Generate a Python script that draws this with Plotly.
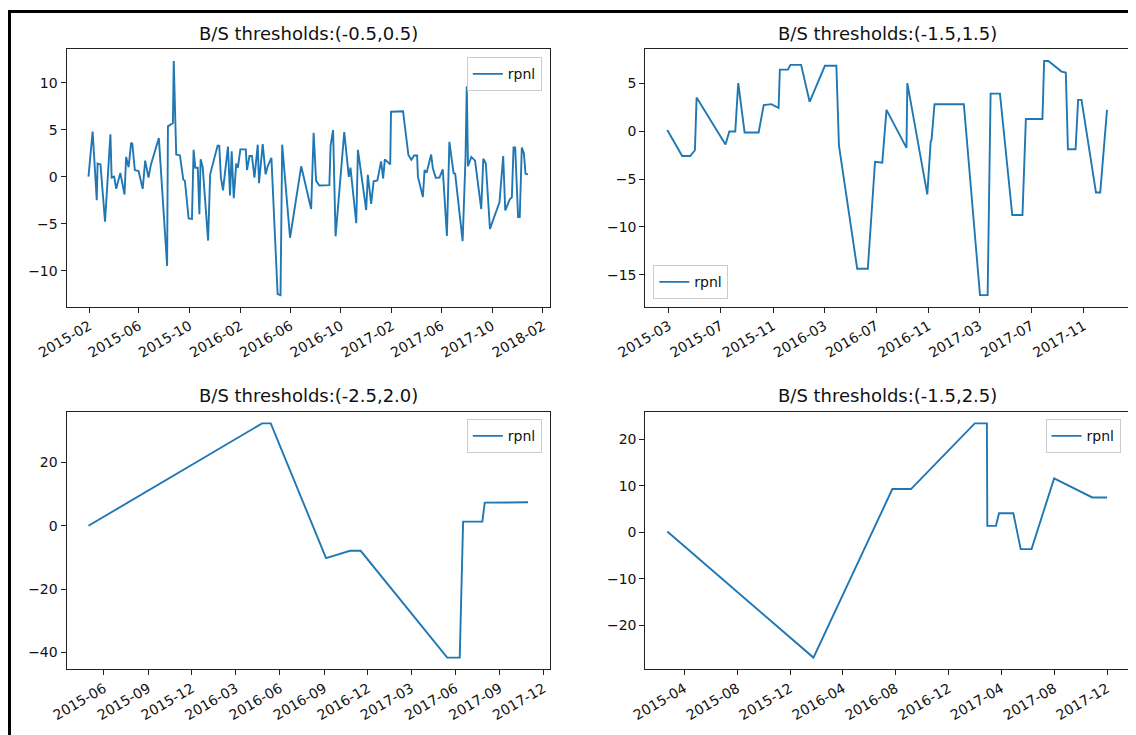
import plotly.graph_objects as go
import pandas as pd

# ---------------- data ----------------
dates1 = ["2015-01-30", "2015-02-09", "2015-02-19", "2015-02-21", "2015-02-28", "2015-03-11",
          "2015-03-24", "2015-03-27", "2015-04-02", "2015-04-07", "2015-04-17", "2015-04-27",
          "2015-05-01", "2015-05-07", "2015-05-13", "2015-05-16", "2015-05-22", "2015-05-31",
          "2015-06-10", "2015-06-16", "2015-06-24", "2015-06-30", "2015-07-19", "2015-08-08",
          "2015-08-10", "2015-08-22", "2015-08-24", "2015-08-30", "2015-09-08", "2015-09-16",
          "2015-09-20", "2015-09-29", "2015-10-07", "2015-10-11", "2015-10-15", "2015-10-21",
          "2015-10-25", "2015-10-28", "2015-11-02", "2015-11-15", "2015-11-20", "2015-12-08",
          "2015-12-12", "2015-12-16", "2015-12-21", "2015-12-30", "2016-01-02", "2016-01-07",
          "2016-01-11", "2016-01-16", "2016-01-22", "2016-01-26", "2016-02-01", "2016-02-14",
          "2016-02-17", "2016-02-23", "2016-02-29", "2016-03-06", "2016-03-14", "2016-03-17",
          "2016-03-26", "2016-04-02", "2016-04-07", "2016-04-16", "2016-05-01", "2016-05-08",
          "2016-05-12", "2016-05-31", "2016-06-19", "2016-06-27", "2016-07-21", "2016-07-27",
          "2016-08-02", "2016-08-10", "2016-09-03", "2016-09-06", "2016-09-12", "2016-09-18",
          "2016-10-09", "2016-10-20", "2016-10-24", "2016-11-07", "2016-11-11", "2016-12-01",
          "2016-12-05", "2016-12-13", "2016-12-19", "2016-12-28", "2017-01-06", "2017-01-11",
          "2017-01-15", "2017-01-23", "2017-01-28", "2017-01-30", "2017-02-28", "2017-03-13",
          "2017-03-20", "2017-03-27", "2017-04-03", "2017-04-05", "2017-04-17", "2017-04-21",
          "2017-04-26", "2017-05-07", "2017-05-11", "2017-05-18", "2017-05-27", "2017-06-04",
          "2017-06-14", "2017-06-20", "2017-06-30", "2017-07-04", "2017-07-22", "2017-07-29",
          "2017-08-01", "2017-08-04", "2017-08-12", "2017-08-21", "2017-09-05", "2017-09-10",
          "2017-09-16", "2017-09-26", "2017-10-19", "2017-10-28", "2017-11-02", "2017-11-13",
          "2017-11-18", "2017-11-22", "2017-11-26", "2017-12-03", "2017-12-07", "2017-12-12",
          "2017-12-17", "2017-12-21", "2017-12-27"]
rpnl1 = [0.0, 4.8, -2.5, 1.4, 1.3, -4.8,
         4.5, -0.1, 0.0, -1.3, 0.4, -1.9,
         2.1, 1.0, 3.6, 3.5, 0.7, 0.6,
         -1.3, 1.7, -0.1, 1.3, 4.1, -9.5,
         5.35, 5.7, 12.3, 2.36, 2.26, -0.3,
         -0.45, -4.45, -4.5, 2.85, 0.95, 0.95,
         -4.0, 1.85, 1.0, -6.8, 0.25, 3.3,
         3.3, -0.1, -1.45, 2.0, 3.2, -2.0,
         2.7, -2.3, 1.4, 0.95, 2.9, 2.9,
         0.7, 2.2, 2.2, -0.1, 3.4, -0.7,
         3.45, 0.25, 1.1, 2.0, -12.5, -12.6,
         3.4, -6.5, -1.15, 1.1, -3.45, 4.65,
         -0.45, -0.95, -0.9, 3.3, 4.95, -6.35,
         4.75, -0.03, 0.95, -4.96, 2.85, -3.55,
         0.2, -2.9, -0.5, -0.4, 1.62, -0.2,
         1.84, 1.5, 1.3, 6.9, 6.95, 2.3,
         1.8, 2.25, 2.26, 0.0, -2.17, 0.7,
         0.42, 2.35, 0.9, -0.12, -0.1, 0.78,
         -6.3, 3.7, 0.4, 0.3, -6.85, 2.0,
         9.6, 1.1, 2.1, 1.7, -3.45, 1.9,
         1.4, -5.56, -2.74, 2.19, -3.6, -2.4,
         -2.2, 3.1, 3.1, -4.3, -4.3, 3.1,
         2.5, 0.3, 0.25]

dates2 = ["2015-02-25", "2015-04-01", "2015-04-20", "2015-05-01", "2015-05-05", "2015-07-12",
          "2015-07-21", "2015-08-04", "2015-08-11", "2015-08-26", "2015-09-28", "2015-10-10",
          "2015-10-28", "2015-11-14", "2015-11-17", "2015-12-06", "2015-12-12", "2016-01-06",
          "2016-01-26", "2016-03-02", "2016-03-29", "2016-04-04", "2016-05-17", "2016-06-11",
          "2016-06-28", "2016-07-15", "2016-07-25", "2016-09-10", "2016-09-12", "2016-10-29",
          "2016-11-06", "2016-11-08", "2016-11-15", "2017-01-23", "2017-03-02", "2017-03-20",
          "2017-03-27", "2017-04-18", "2017-05-17", "2017-06-10", "2017-06-18", "2017-07-27",
          "2017-07-31", "2017-08-10", "2017-09-10", "2017-09-20", "2017-09-25", "2017-10-13",
          "2017-10-19", "2017-10-27", "2017-11-30", "2017-12-10", "2017-12-26"]
rpnl2 = [0.1, -2.6, -2.6, -2.0, 3.5, -1.4,
         -0.05, -0.05, 5.0, -0.15, -0.15, 2.7,
         2.8, 2.4, 6.4, 6.4, 6.9, 6.9,
         3.05, 6.8, 6.8, -1.5, -14.35, -14.35,
         -3.2, -3.3, 2.2, -1.75, 5.0, -6.6,
         -1.1, -0.9, 2.8, 2.8, -17.1, -17.1,
         3.9, 3.9, -8.75, -8.75, 1.25, 1.25,
         7.3, 7.3, 6.2, 6.1, -1.9, -1.9,
         3.25, 3.25, -6.4, -6.4, 2.2]

dates3 = ["2015-04-30", "2016-04-25", "2016-05-13", "2016-09-05", "2016-10-25", "2016-11-16",
          "2017-05-15", "2017-06-10", "2017-06-17", "2017-07-27", "2017-08-01", "2017-10-30"]
rpnl3 = [0.0, 32.3, 32.3, -10.2, -7.9, -7.9,
         -41.6, -41.6, 1.3, 1.3, 7.3, 7.4]

dates4 = ["2015-02-21", "2016-01-24", "2016-07-24", "2016-09-05", "2017-01-30", "2017-02-27",
          "2017-02-28", "2017-03-20", "2017-03-27", "2017-04-29", "2017-05-16", "2017-06-10",
          "2017-08-01", "2017-10-28", "2017-12-01"]
rpnl4 = [0.2, -26.9, 9.3, 9.3, 23.4, 23.4,
         1.4, 1.4, 4.1, 4.1, -3.6, -3.6,
         11.6, 7.5, 7.5]

titles = ["B/S thresholds:(-0.5,0.5)", "B/S thresholds:(-1.5,1.5)",
          "B/S thresholds:(-2.5,2.0)", "B/S thresholds:(-1.5,2.5)"]
series_name = "rpnl"
x_tick0 = ["2015-02-01", "2015-03-01", "2015-03-01", "2015-04-01"]
x_dtick = ["M4", "M4", "M3", "M4"]
y_dtick = [5, 5, 20, 10]

# ---------------- layout geometry ----------------
# positions measured in viewport pixels; the page body adds an 8px margin,
# so the figure is made 8px smaller and positions are shifted by 8px.
OFF = 8
W, H = 1136 - OFF, 735 - OFF
FONT = "DejaVu Sans"
BLUE = "#1f77b4"


def fx(p):
    return (p - OFF) / W


def fy(p):
    return 1 - (p - OFF) / H


boxes = [  # (left, right, top, bottom) in viewport pixels
    (66.5, 550.0, 49.3, 306.8),
    (645.3, 1129.0, 49.3, 306.8),
    (66.5, 550.0, 411.7, 669.3),
    (645.3, 1129.0, 411.7, 669.3),
]
legend_pos = [  # (x px, y px, xanchor, yanchor)
    (541.8, 57.3, "right", "top"),
    (653.3, 299.3, "left", "bottom"),
    (541.8, 419.3, "right", "top"),
    (1120.5, 419.3, "right", "top"),
]
title_y = [33.3, 33.3, 395.0, 395.0]

all_dates = [dates1, dates2, dates3, dates4]
all_vals = [rpnl1, rpnl2, rpnl3, rpnl4]

fig = go.Figure()
layout = dict(
    template="none",
    width=W, height=H, autosize=False,
    margin=dict(l=0, r=0, t=0, b=0, pad=0),
    paper_bgcolor="white", plot_bgcolor="white",
    font=dict(family=FONT, size=14, color="black"),
    showlegend=True,
    annotations=[], shapes=[],
)

for i in range(4):
    n = "" if i == 0 else str(i + 1)
    d = pd.to_datetime(all_dates[i])
    v = all_vals[i]
    legend_name = "legend" + n
    fig.add_trace(go.Scatter(
        x=d, y=v, mode="lines", name=series_name,
        line=dict(color=BLUE, width=1.9),
        xaxis="x" + n, yaxis="y" + n, legend=legend_name,
    ))
    # matplotlib-like 5% autoscale margins
    dmin, dmax = d.min(), d.max()
    dpad = (dmax - dmin) * 0.05
    vmin, vmax = min(v), max(v)
    vpad = (vmax - vmin) * 0.05
    l, r, t, b = boxes[i]
    common = dict(
        showline=True, mirror=True, linecolor="#222222", linewidth=1,
        ticks="outside", ticklen=5, tickwidth=1, tickcolor="#222222",
        showgrid=False, zeroline=False, automargin=False,
        tickfont=dict(family=FONT, size=14, color="#111111"),
    )
    layout["xaxis" + n] = dict(
        common, type="date", domain=[fx(l), fx(r)], anchor="y" + n,
        range=[(dmin - dpad).isoformat(), (dmax + dpad).isoformat()],
        tick0=x_tick0[i], dtick=x_dtick[i], tickformat="%Y-%m", tickangle=-30,
    )
    layout["yaxis" + n] = dict(
        common, domain=[fy(b), fy(t)], anchor="x" + n,
        range=[vmin - vpad, vmax + vpad], tick0=0, dtick=y_dtick[i],
    )
    lx, ly, xa, ya = legend_pos[i]
    layout[legend_name] = dict(
        x=fx(lx), y=fy(ly), xanchor=xa, yanchor=ya,
        xref="paper", yref="paper",
        bgcolor="rgba(255,255,255,0.8)", bordercolor="#cccccc", borderwidth=1,
        font=dict(family=FONT, size=14, color="#111111"),
        itemwidth=30,
    )
    layout["annotations"].append(dict(
        text=titles[i], xref="paper", yref="paper",
        x=(fx(l) + fx(r)) / 2, y=fy(title_y[i]),
        xanchor="center", yanchor="middle", showarrow=False,
        font=dict(family=FONT, size=18, color="#111111"),
    ))

# black frame of the screenshot (top and left edges)
layout["shapes"].append(dict(type="line", xref="paper", yref="paper",
                             x0=fx(8), x1=1, y0=fy(11.5), y1=fy(11.5),
                             line=dict(color="black", width=3)))
layout["shapes"].append(dict(type="line", xref="paper", yref="paper",
                             x0=fx(9.5), x1=fx(9.5), y0=fy(10), y1=0,
                             line=dict(color="black", width=3)))

fig.update_layout(layout)
fig.write_html("out.html")
